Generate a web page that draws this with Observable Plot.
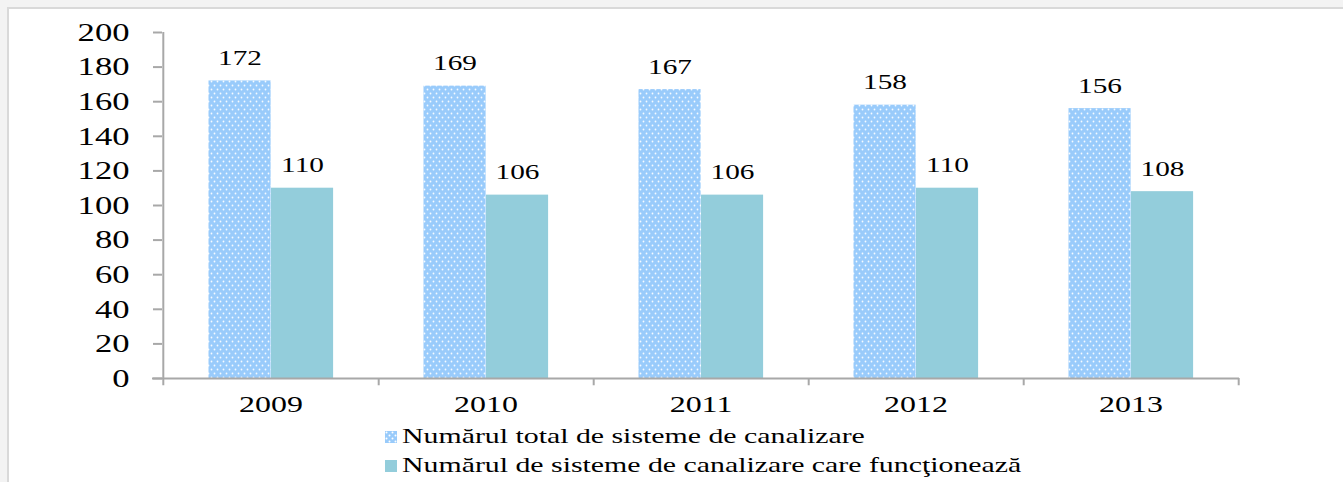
<!DOCTYPE html>
<html>
<head>
<meta charset="utf-8">
<script src="https://cdn.jsdelivr.net/npm/d3@7"></script>
<script src="https://cdn.jsdelivr.net/npm/@observablehq/plot@0.6"></script>
<style>
  html, body { margin: 0; padding: 0; background: #f3f3f3; width: 1343px; height: 482px; overflow: hidden; }
  #frame { position: absolute; left: 7px; top: 7px; width: 1400px; height: 500px; background: #fff; border-left: 2px solid #d9d9d9; border-top: 2px solid #d9d9d9; }
  #chart { position: absolute; left: 0; top: 0; }
  #legend { position: absolute; left: 385px; top: 422px; font-family: 'Liberation Serif', 'Times New Roman', serif; font-size: 21px; color: #000; }
  .row { display: flex; align-items: center; height: 29px; white-space: nowrap; }
  .sw { width: 12px; height: 12px; margin-right: 5px; flex: none; }
  .lab { display: inline-block; transform: scaleX(1.42); transform-origin: 0 50%; }
  #chart svg text { font-family: 'Liberation Serif', 'Times New Roman', serif; }
</style>
</head>
<body>
<div id="frame"></div>
<div id="chart"></div>
<div id="legend"></div>
<script>
const years = ["2009", "2010", "2011", "2012", "2013"];
const totalSystems = [172, 169, 167, 158, 156];
const workingSystems = [110, 106, 106, 110, 108];
const seriesNames = ["Numărul total de sisteme de canalizare", "Numărul de sisteme de canalizare care funcţionează"];
const yTicks = [0, 20, 40, 60, 80, 100, 120, 140, 160, 180, 200];

const totalData = years.map((y, i) => ({year: y, value: totalSystems[i]}));
const workData = years.map((y, i) => ({year: y, value: workingSystems[i]}));

const blue = "#99cbfb";
const teal = "#93cddb";
const half = (1343 - 162 - 104) / years.length / 2;

const plot = Plot.plot({
  width: 1343,
  height: 440,
  marginLeft: 162,
  marginRight: 104,
  marginTop: 32,
  marginBottom: 62,
  style: {fontFamily: "'Liberation Serif', 'Times New Roman', serif", background: "transparent", color: "#000"},
  x: {domain: years, padding: 0},
  y: {domain: [0, 200]},
  marks: [
    Plot.barY(totalData, {x: "year", y: "value", fill: "url(#dots)", insetLeft: 45.5, insetRight: 107.4}),
    Plot.barY(workData, {x: "year", y: "value", fill: teal, insetLeft: 108, insetRight: 44.9}),
    Plot.ruleY([0], {stroke: "#a8a8a8", strokeWidth: 2, insetLeft: -10}),
    Plot.ruleX([years[0]], {x: d => d, y1: -4.2, y2: 200, dx: -half, stroke: "#a8a8a8", strokeWidth: 2}),
    Plot.ruleX(years, {x: d => d, y1: -4.2, y2: 0, dx: half, stroke: "#a8a8a8", strokeWidth: 2}),
    Plot.axisY({ticks: yTicks, tickSize: 9, tickPadding: 24, stroke: "#a8a8a8", strokeWidth: 2, fontSize: 26, fill: "#000", label: null, tickFormat: d => String(d)}),
    Plot.axisX({tickSize: 0, tickPadding: 16, fontSize: 24, fill: "#000", label: null}),
    Plot.text(totalData, {x: "year", y: "value", text: d => String(d.value), dx: -31, dy: -23, fontSize: 22, fill: "#000", lineAnchor: "middle"}),
    Plot.text(workData, {x: "year", y: "value", text: d => String(d.value), dx: 31.5, dy: -23, fontSize: 22, fill: "#000", lineAnchor: "middle"})
  ]
});

// pattern definition for the dotted bars
const ns = "http://www.w3.org/2000/svg";
const defs = document.createElementNS(ns, "defs");
defs.innerHTML = `<pattern id="dots" patternUnits="userSpaceOnUse" width="6" height="8">
  <rect width="6" height="8" fill="${blue}"/>
  <circle cx="1.5" cy="1.5" r="0.9" fill="#ffffff" fill-opacity="0.9"/>
  <circle cx="4.5" cy="5.5" r="0.9" fill="#ffffff" fill-opacity="0.9"/>
</pattern>`;
plot.insertBefore(defs, plot.firstChild);
document.getElementById("chart").appendChild(plot);

// horizontally stretched lettering, as in the reference
plot.querySelectorAll("text").forEach(t => {
  const len = t.getComputedTextLength();
  if (len > 0) {
    t.setAttribute("textLength", (len * 1.33).toFixed(1));
    t.setAttribute("lengthAdjust", "spacingAndGlyphs");
  }
});

const legend = document.getElementById("legend");
seriesNames.forEach((name, i) => {
  const row = document.createElement("div");
  row.className = "row";
  row.innerHTML = `<svg class="sw" width="12" height="12"><defs><pattern id="lp${i}" patternUnits="userSpaceOnUse" width="6" height="6"><rect width="6" height="6" fill="${i === 0 ? blue : teal}"/>${i === 0 ? '<circle cx="1.5" cy="1.5" r="1" fill="#fff"/><circle cx="4.5" cy="4.5" r="1" fill="#fff"/>' : ''}</pattern></defs><rect width="12" height="12" fill="url(#lp${i})"/></svg><span class="lab">${name}</span>`;
  legend.appendChild(row);
});
</script>
</body>
</html>
